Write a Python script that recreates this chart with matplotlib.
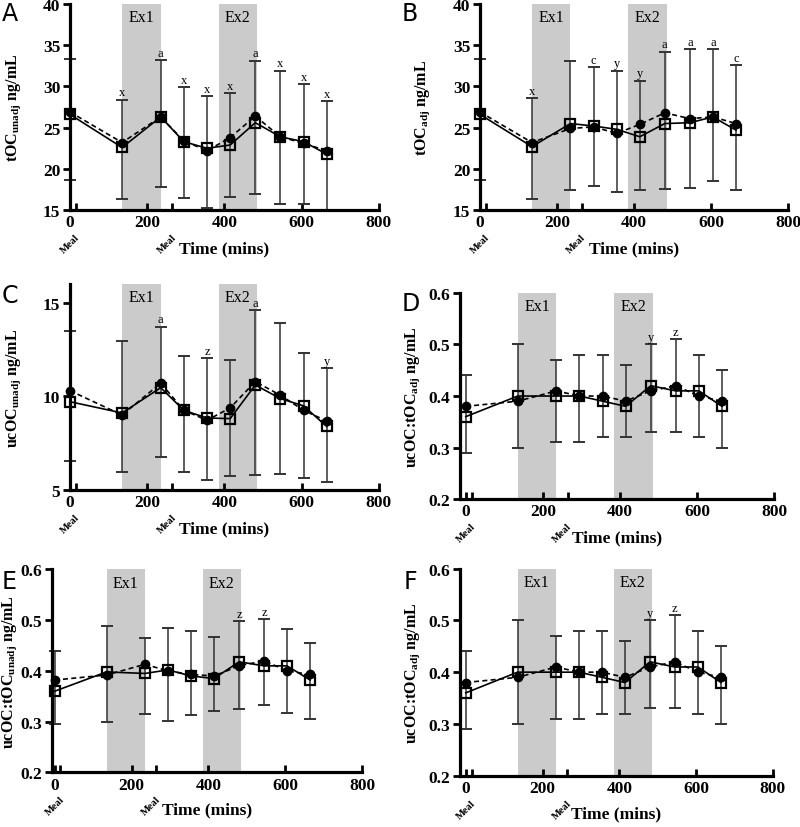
import matplotlib
matplotlib.use("Agg")
import matplotlib.pyplot as plt

plt.rcParams['font.family'] = ['Liberation Serif', 'DejaVu Serif']
plt.rcParams['mathtext.fontset'] = 'custom'
plt.rcParams['mathtext.rm'] = 'Liberation Serif:bold'
plt.rcParams['mathtext.bf'] = 'Liberation Serif:bold'
plt.rcParams['mathtext.it'] = 'Liberation Serif:bold:italic'

# sampling times (mins)
times = [0, 135, 235, 295, 355, 415, 480, 545, 605, 665]
ex1 = (135, 235)
ex2 = (385, 485)
meal_times = [15, 265]

# A: tOC unadj
a_circ = [26.9, 23.2, 26.3, 23.4, 22.2, 23.8, 26.4, 23.9, 23.1, 22.2]
a_sq = [26.6, 22.6, 26.3, 23.3, 22.5, 22.9, 25.6, 23.9, 23.3, 21.8]
a_lo = [18.6, 16.4, 17.8, 16.5, 15.2, 16.6, 16.9, 15.8, 15.7, 15.0]
a_hi = [33.3, 28.4, 33.2, 29.9, 28.8, 29.2, 33.1, 31.9, 30.3, 28.2]
a_sig = ['', 'x', 'a', 'x', 'x', 'x', 'a', 'x', 'x', 'x']

# B: tOC adj
b_circ = [26.9, 23.2, 24.9, 25.1, 24.3, 25.4, 26.8, 26.1, 26.3, 25.5]
b_sq = [26.6, 22.7, 25.5, 25.2, 24.8, 23.9, 25.5, 25.6, 26.3, 24.7]
b_lo = [18.6, 16.4, 17.4, 17.9, 17.2, 17.5, 17.6, 17.7, 18.5, 17.5]
b_hi = [33.3, 28.6, 33.1, 32.3, 31.9, 30.7, 34.2, 34.5, 34.5, 32.6]
b_sig = ['', 'x', '', 'c', 'y', 'y', 'a', 'a', 'a', 'c']

# C: ucOC unadj
c_circ = [10.3, 9.0, 10.7, 9.25, 8.72, 9.38, 10.78, 10.06, 9.25, 8.68]
c_sq = [9.71, 9.11, 10.46, 9.25, 8.84, 8.81, 10.6, 9.88, 9.49, 8.39]
c_lo = [6.56, 5.94, 6.74, 5.97, 5.54, 5.75, 5.79, 5.85, 5.63, 5.45]
c_hi = [13.48, 12.97, 13.71, 12.16, 12.02, 11.93, 14.6, 13.92, 12.31, 11.5]
c_sig = ['', '', 'a', '', 'z', '', 'a', '', '', 'y']

# D: ucOC:tOC adj
d_circ = [0.38, 0.39, 0.41, 0.40, 0.40, 0.39, 0.41, 0.42, 0.40, 0.39]
d_sq = [0.36, 0.40, 0.40, 0.40, 0.39, 0.38, 0.42, 0.41, 0.41, 0.38]
d_lo = [0.29, 0.30, 0.31, 0.31, 0.32, 0.32, 0.33, 0.33, 0.32, 0.30]
d_hi = [0.44, 0.50, 0.47, 0.48, 0.48, 0.46, 0.50, 0.51, 0.48, 0.45]
d_sig = ['', '', '', '', '', '', 'y', 'z', '', '']

# E: ucOC:tOC unadj
e_circ = [0.382, 0.392, 0.413, 0.40, 0.393, 0.39, 0.41, 0.42, 0.40, 0.393]
e_sq = [0.36, 0.398, 0.395, 0.402, 0.39, 0.385, 0.418, 0.41, 0.41, 0.382]
e_lo = [0.296, 0.30, 0.315, 0.302, 0.313, 0.321, 0.325, 0.333, 0.318, 0.305]
e_hi = [0.44, 0.489, 0.464, 0.484, 0.479, 0.467, 0.498, 0.502, 0.482, 0.455]
e_sig = ['', '', '', '', '', '', 'z', 'z', '', '']

# F: ucOC:tOC adj
f_circ = [0.38, 0.39, 0.41, 0.40, 0.40, 0.39, 0.41, 0.42, 0.40, 0.39]
f_sq = [0.36, 0.40, 0.40, 0.40, 0.39, 0.38, 0.42, 0.41, 0.41, 0.38]
f_lo = [0.29, 0.30, 0.31, 0.31, 0.32, 0.32, 0.33, 0.33, 0.32, 0.30]
f_hi = [0.44, 0.50, 0.47, 0.48, 0.48, 0.46, 0.50, 0.51, 0.48, 0.45]
f_sig = ['', '', '', '', '', '', 'y', 'z', '', '']

panels = [
    ('A', r'tOC$_{\mathrm{unadj}}$ ng/mL', a_circ, a_sq, a_lo, a_hi, a_sig,
     (15, 40), [15, 20, 25, 30, 35, 40], '{:.0f}',
     [0.0875, 0.745, 0.386, 0.249], 0, -0.152),
    ('B', r'tOC$_{\mathrm{adj}}$ ng/mL', b_circ, b_sq, b_lo, b_hi, b_sig,
     (15, 40), [15, 20, 25, 30, 35, 40], '{:.0f}',
     [0.600, 0.745, 0.385, 0.249], 0, -0.155),
    ('C', r'ucOC$_{\mathrm{unadj}}$ ng/mL', c_circ, c_sq, c_lo, c_hi, c_sig,
     (5, 16), [5, 10, 15], '{:.0f}',
     [0.0875, 0.407, 0.386, 0.249], 0, -0.152),
    ('D', r'ucOC:tOC$_{\mathrm{adj}}$ ng/mL', d_circ, d_sq, d_lo, d_hi, d_sig,
     (0.2, 0.6), [0.2, 0.3, 0.4, 0.5, 0.6], '{:.1f}',
     [0.575, 0.396, 0.3925, 0.249], -15, -0.122),
    ('E', r'ucOC:tOC$_{\mathrm{unadj}}$ ng/mL', e_circ, e_sq, e_lo, e_hi, e_sig,
     (0.2, 0.6), [0.2, 0.3, 0.4, 0.5, 0.6], '{:.1f}',
     [0.065, 0.066, 0.3875, 0.245], -7, -0.105),
    ('F', r'ucOC:tOC$_{\mathrm{adj}}$ ng/mL', f_circ, f_sq, f_lo, f_hi, f_sig,
     (0.2, 0.6), [0.2, 0.3, 0.4, 0.5, 0.6], '{:.1f}',
     [0.575, 0.062, 0.391, 0.250], -15, -0.122),
]

fig = plt.figure(figsize=(8, 8.28), dpi=100)

for (letter, ylab, circ, sq, lo, hi, sig, ylim, yticks, yfmt,
     rect, xmin, ylab_x) in panels:
    ax = fig.add_axes(rect)
    ax.axvspan(ex1[0], ex1[1], color='#cbcbcb', lw=0, zorder=0)
    ax.axvspan(ex2[0], ex2[1], color='#cbcbcb', lw=0, zorder=0)
    ax.text((ex1[0] + ex1[1]) / 2, 0.975, 'Ex1', transform=ax.get_xaxis_transform(),
            ha='center', va='top', fontsize=11.5)
    ax.text((ex2[0] + ex2[1]) / 2, 0.975, 'Ex2', transform=ax.get_xaxis_transform(),
            ha='center', va='top', fontsize=11.5)

    yerr = [[s - l for s, l in zip(sq, lo)], [h - s for s, h in zip(sq, hi)]]
    eb = ax.errorbar(times, sq, yerr=yerr, fmt='none', ecolor='#333333',
                     elinewidth=1.1, capsize=4, capthick=1.4, zorder=2)
    for art in eb.lines[1] + eb.lines[2]:
        art.set_clip_on(False)

    ax.plot(times, circ, ls=(0, (3, 2)), color='black', lw=1.2, marker='o',
            ms=6, mfc='black', mec='black', zorder=3, clip_on=False)
    ax.plot(times, sq, ls='-', color='black', lw=1.2, marker='s', ms=7.5,
            mfc='none', mec='black', mew=1.6, zorder=4, clip_on=False)

    for t, h, s in zip(times, hi, sig):
        if s:
            ax.annotate(s, xy=(t, h), xytext=(0, 1), textcoords='offset points',
                        ha='center', va='bottom', fontsize=9)

    ax.set_xlim(xmin, 800)
    ax.set_ylim(*ylim)
    ax.set_xticks([0, 200, 400, 600, 800])
    ax.set_xticks(meal_times, minor=True)
    ax.set_yticks(yticks)
    ax.set_yticklabels([yfmt.format(v) for v in yticks])
    for lab in ax.get_xticklabels() + ax.get_yticklabels():
        lab.set_fontweight('bold')
        lab.set_fontsize(12.5)

    ax.spines['top'].set_visible(False)
    ax.spines['right'].set_visible(False)
    ax.spines['left'].set_linewidth(2.3)
    ax.spines['bottom'].set_linewidth(2.3)
    ax.tick_params(axis='x', which='both', direction='in', length=5, width=2, pad=3)
    ax.tick_params(axis='y', direction='out', length=5, width=2, pad=2)

    for m in meal_times:
        ax.annotate('Meal', xy=(m, 0), xycoords=('data', 'axes fraction'),
                    xytext=(4, -16), textcoords='offset points', rotation=45,
                    ha='right', va='top', fontsize=7.5, fontweight='bold')

    ax.set_xlabel('Time (mins)', fontsize=12.5, fontweight='bold')
    ax.xaxis.set_label_coords(0.5, -0.145)
    ax.set_ylabel(ylab, fontsize=11.5, fontweight='bold')
    ax.yaxis.set_label_coords(ylab_x, 0.5)

# panel letters
letter_pos = {'A': (0.0, 0.997), 'B': (0.5, 0.997), 'C': (0.0, 0.657),
              'D': (0.5, 0.647), 'E': (0.0, 0.312), 'F': (0.502, 0.312)}
for k, (x, y) in letter_pos.items():
    fig.text(x + 0.002, y, k, fontsize=17, family='DejaVu Sans', ha='left', va='top')

fig.savefig('out.png', dpi=100)
